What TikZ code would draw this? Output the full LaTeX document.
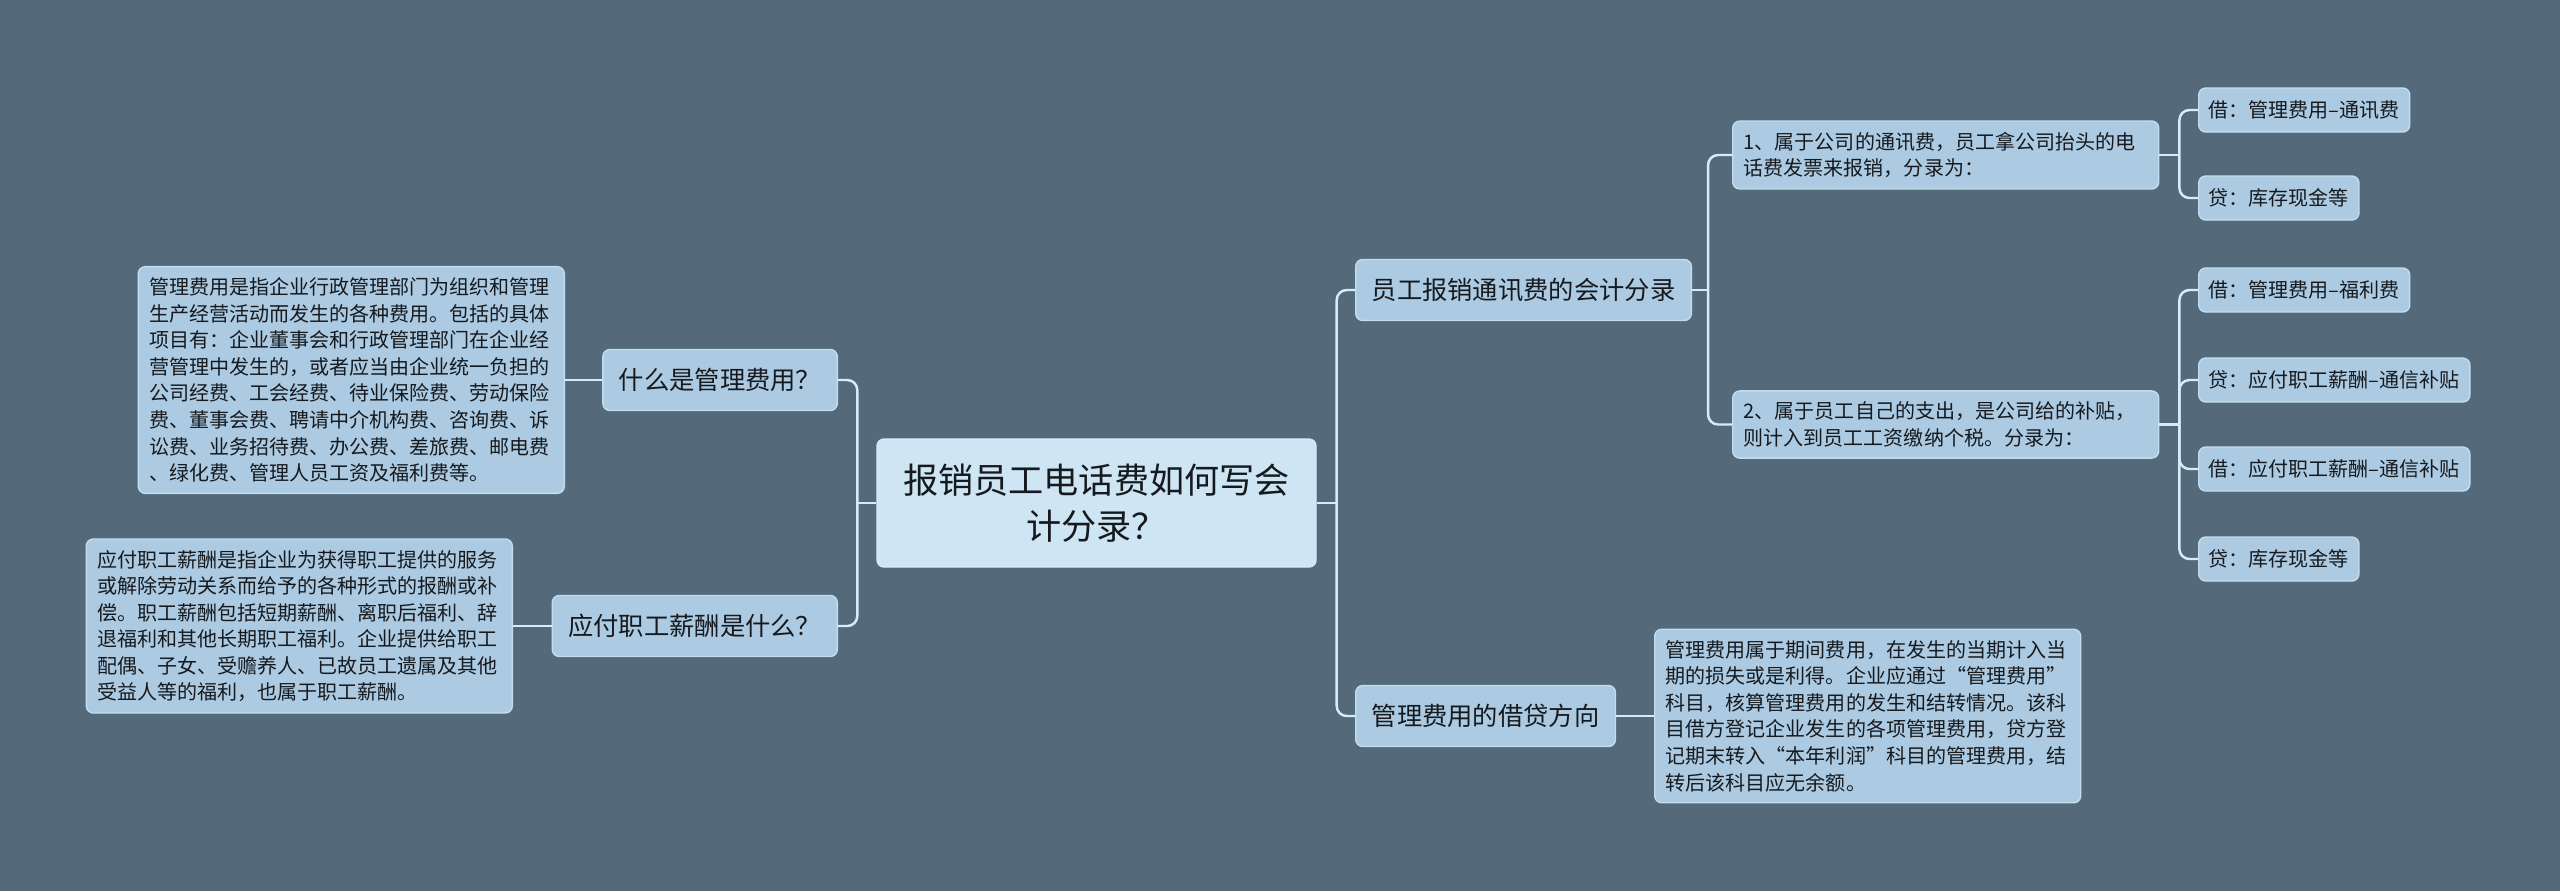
\documentclass[tikz,border=0pt]{standalone}
\usepackage{fontspec}
\usepackage{tikz}
\newfontfamily\cjk{Noto Sans CJK SC}
\definecolor{bgcol}{RGB}{84,106,122}
\definecolor{boxcol}{RGB}{172,202,225}
\definecolor{rootcol}{RGB}{206,229,243}
\definecolor{linecol}{RGB}{214,236,248}
\definecolor{inkcol}{RGB}{22,26,30}

\begin{document}
\begin{tikzpicture}[
    base/.style={fill=boxcol, draw=linecol!55!boxcol, line width=0.4pt,
                 rounded corners=2pt, text=inkcol},
    topic/.style={base, fill=rootcol, draw=linecol, minimum width=4.39cm, minimum height=1.28cm,
                  align=center, font={\cjk\fontsize{10}{13.2}\selectfont}},
    branch/.style={base, inner xsep=0.16cm, minimum height=0.61cm,
                   font={\cjk\fontsize{7.2}{9}\selectfont}},
    para/.style={base, text width=4.04cm, inner sep=0.11cm, align=left,
                 font={\cjk\fontsize{5.7}{7.56}\selectfont}},
    leaf/.style={base, inner xsep=0.1cm, minimum height=0.44cm,
                 font={\cjk\fontsize{5.7}{7}\selectfont}},
    link/.style={draw=linecol, line width=0.7pt, rounded corners=0.1cm}
]

\fill[bgcol] (0,0) rectangle (25.6,-8.91);

% --- centre ---
\node[topic] (root) at (10.965,-5.03) {报销员工电话费如何写会\\计分录？};

% --- left side ---
\node[branch, anchor=east] (what) at (8.38,-3.80) {什么是管理费用？};
\node[para, anchor=east] (whatTxt) at (5.65,-3.80)
    {管理费用是指企业行政管理部门为组织和管理\\生产经营活动而发生的各种费用。包括的具体\\项目有：企业董事会和行政管理部门在企业经\\营管理中发生的，或者应当由企业统一负担的\\公司经费、工会经费、待业保险费、劳动保险\\费、董事会费、聘请中介机构费、咨询费、诉\\讼费、业务招待费、办公费、差旅费、邮电费\\、绿化费、管理人员工资及福利费等。};

\node[branch, anchor=east] (pay) at (8.38,-6.26) {应付职工薪酬是什么？};
\node[para, anchor=east] (payTxt) at (5.13,-6.26)
    {应付职工薪酬是指企业为获得职工提供的服务\\或解除劳动关系而给予的各种形式的报酬或补\\偿。职工薪酬包括短期薪酬、离职后福利、辞\\退福利和其他长期职工福利。企业提供给职工\\配偶、子女、受赡养人、已故员工遗属及其他\\受益人等的福利，也属于职工薪酬。};

\coordinate (rootL) at ([xshift=-0.19cm]root.west);
\draw[link] (root.west) -- (rootL);
\draw[link] (rootL) |- (what.east);
\draw[link] (rootL) |- (pay.east);
\draw[link] (what.west) -- (whatTxt.east);
\draw[link] (pay.west) -- (payTxt.east);

% --- right side ---
\node[branch, anchor=west] (entry) at (13.55,-2.90) {员工报销通讯费的会计分录};
\node[branch, anchor=west] (dir) at (13.55,-7.16) {管理费用的借贷方向};

\node[para, anchor=west] (case1) at (17.32,-1.55)
    {1、属于公司的通讯费，员工拿公司抬头的电\\话费发票来报销，分录为：};
\node[para, anchor=west] (case2) at (17.32,-4.245)
    {2、属于员工自己的支出，是公司给的补贴，\\则计入到员工工资缴纳个税。分录为：};
\node[para, anchor=west] (dirTxt) at (16.54,-7.16)
    {管理费用属于期间费用，在发生的当期计入当\\期的损失或是利得。企业应通过“管理费用”\\科目，核算管理费用的发生和结转情况。该科\\目借方登记企业发生的各项管理费用，贷方登\\记期末转入“本年利润”科目的管理费用，结\\转后该科目应无余额。};

\node[leaf, anchor=west] (c1a) at (21.98,-1.10) {借：管理费用–通讯费};
\node[leaf, anchor=west] (c1b) at (21.98,-1.98) {贷：库存现金等};
\node[leaf, anchor=west] (c2a) at (21.98,-2.90) {借：管理费用–福利费};
\node[leaf, anchor=west] (c2b) at (21.98,-3.80) {贷：应付职工薪酬–通信补贴};
\node[leaf, anchor=west] (c2c) at (21.98,-4.69) {借：应付职工薪酬–通信补贴};
\node[leaf, anchor=west] (c2d) at (21.98,-5.59) {贷：库存现金等};

\coordinate (rootR) at ([xshift=0.20cm]root.east);
\coordinate (entryR) at ([xshift=0.16cm]entry.east);
\coordinate (case1R) at ([xshift=0.20cm]case1.east);
\coordinate (case2R) at ([xshift=0.20cm]case2.east);

\draw[link] (root.east) -- (rootR);
\draw[link] (rootR) |- (entry.west);
\draw[link] (rootR) |- (dir.west);
\draw[link] (entry.east) -- (entryR);
\draw[link] (entryR) |- (case1.west);
\draw[link] (entryR) |- (case2.west);
\draw[link] (dir.east) -- (dirTxt.west);
\draw[link] (case1.east) -- (case1R);
\foreach \leafname in {c1a,c1b}
    \draw[link] (case1R) |- (\leafname.west);
\draw[link] (case2.east) -- (case2R);
\foreach \leafname in {c2a,c2b,c2c,c2d}
    \draw[link] (case2R) |- (\leafname.west);

\end{tikzpicture}
\end{document}
